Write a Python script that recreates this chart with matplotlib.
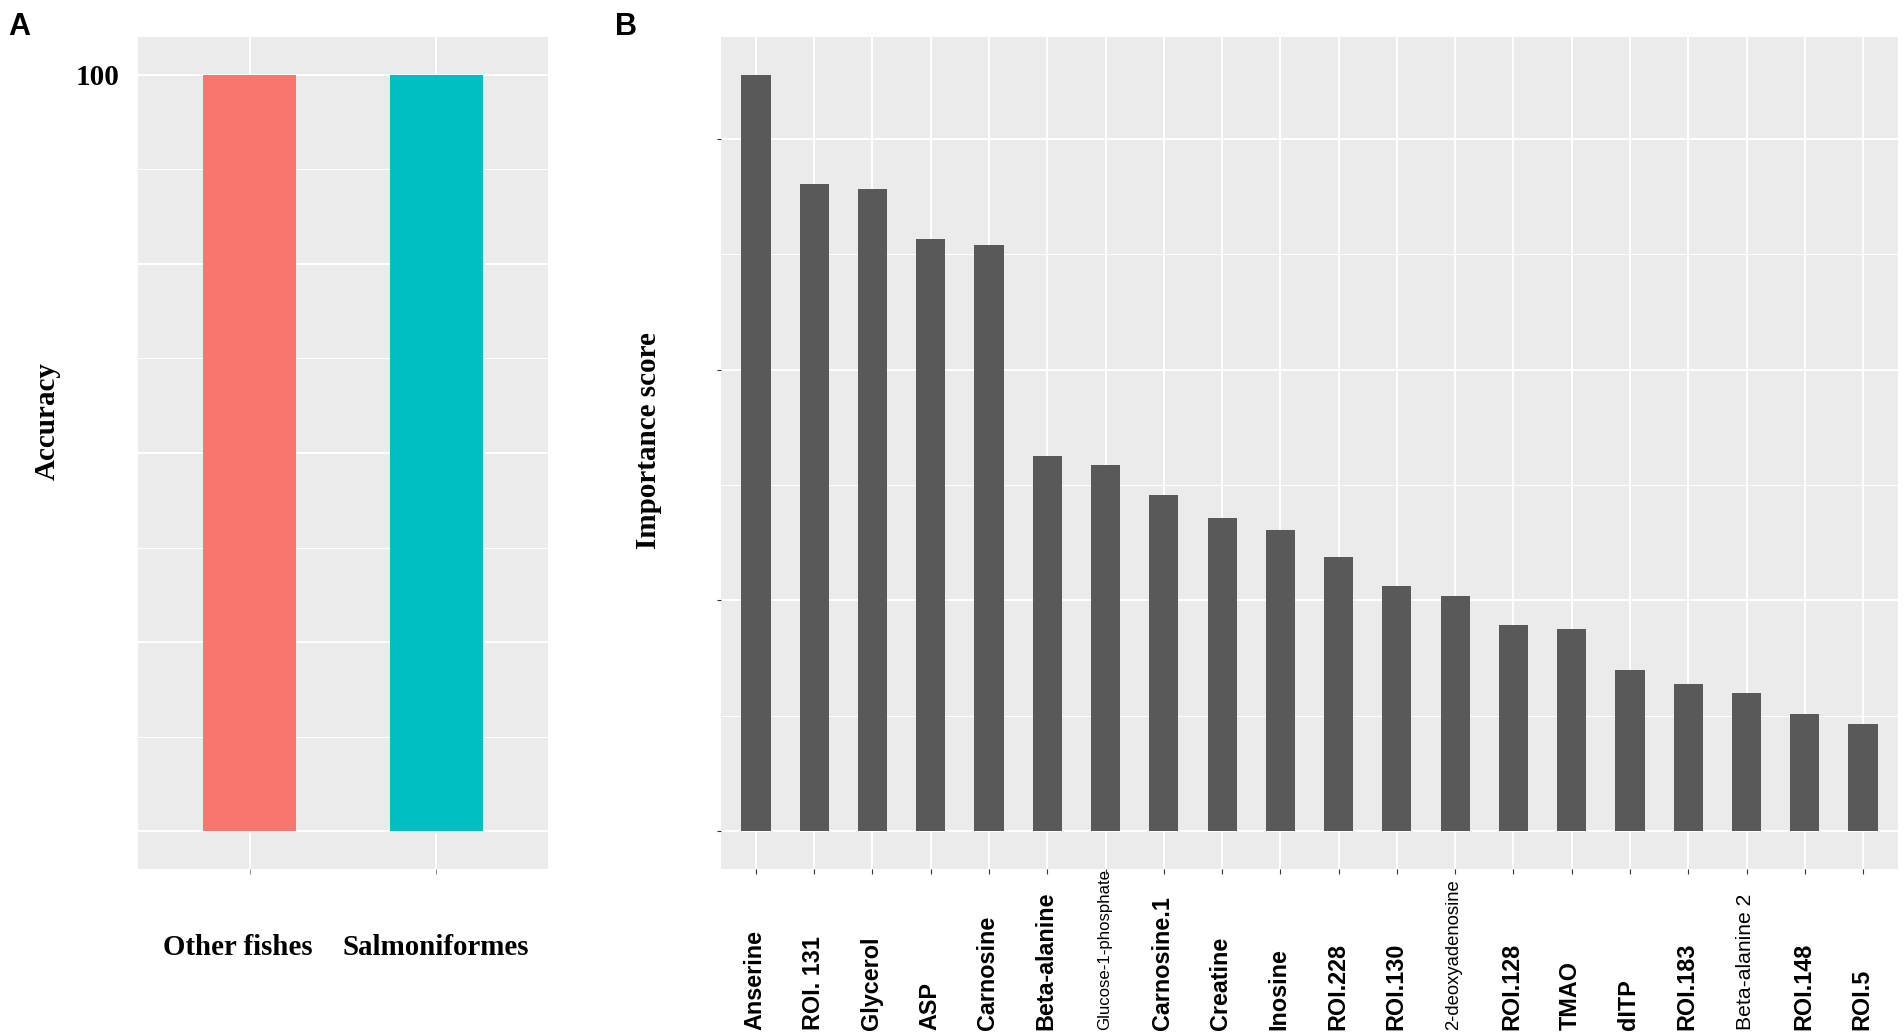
import numpy as np
import matplotlib
matplotlib.use("Agg")
import matplotlib.pyplot as plt
from matplotlib.transforms import blended_transform_factory, ScaledTranslation

# panel A data
groups = ["Other fishes", "Salmoniformes"]
accuracy = [100, 100]
group_colors = ["#F8766D", "#00BFC4"]

# panel B data
features = ["Anserine", "ROI. 131", "Glycerol", "ASP", "Carnosine", "Beta-alanine",
            "Glucose-1-phosphate", "Carnosine.1", "Creatine", "Inosine", "ROI.228",
            "ROI.130", "2-deoxyadenosine", "ROI.128", "TMAO", "dITP", "ROI.183",
            "Beta-alanine 2", "ROI.148", "ROI.5"]
importance = [3.277, 2.803, 2.784, 2.566, 2.540, 1.624, 1.587, 1.456, 1.356, 1.303,
              1.188, 1.061, 1.019, 0.893, 0.878, 0.699, 0.636, 0.597, 0.507, 0.463]

# labels drawn smaller / not bold in the original
small_labels = {"Glucose-1-phosphate": (12.1, "normal"),
                "2-deoxyadenosine": (13.3, "normal"),
                "Beta-alanine 2": (15.2, "normal")}

W, H = 1904, 1033
fig = plt.figure(figsize=(W / 100, H / 100), dpi=100)

serif = "Liberation Serif"
sans = "Liberation Sans"
bg = "#EBEBEB"


def px_axes(left, top, right, bottom):
    return fig.add_axes([left / W, 1 - bottom / H, (right - left) / W, (bottom - top) / H])


def gg_style(ax):
    ax.set_facecolor(bg)
    for s in ax.spines.values():
        s.set_visible(False)
    ax.set_axisbelow(True)


# ---------- panel A ----------
axA = px_axes(138, 37, 548, 869)
gg_style(axA)
xa = np.arange(1, len(groups) + 1)
axA.bar(xa, accuracy, width=0.5, color=group_colors, zorder=3)
axA.set_xlim(0.4, 2.6)
axA.set_ylim(-5, 105)
axA.set_yticks([0, 25, 50, 75, 100])
axA.set_yticklabels(["", "", "", "", "100"], fontfamily=serif, fontweight="bold", fontsize=21)
axA.set_yticks(np.arange(12.5, 100, 25), minor=True)
axA.tick_params(axis="y", which="both", length=0, pad=13)
axA.set_xticks(xa)
axA.set_xticklabels(groups, fontfamily=serif, fontweight="bold", fontsize=20.8)
axA.tick_params(axis="x", length=3.5, width=0.7, color="#8a8a8a", pad=43)
# the first group label sits a little left of its tick in the original
lab0 = axA.get_xticklabels()[0]
lab0.set_transform(lab0.get_transform() + ScaledTranslation(-12 / 100, 0, fig.dpi_scale_trans))
axA.grid(True, which="major", color="white", linewidth=1.4)
axA.grid(True, which="minor", axis="y", color="white", linewidth=0.7)
fig.text(47 / W, 1 - 421 / H, "Accuracy", rotation=90, ha="center", va="center",
         fontfamily=serif, fontweight="bold", fontsize=21)
fig.text(8 / W, 1 - 12 / H, "A", ha="left", va="top", fontfamily=sans,
         fontweight="bold", fontsize=22)

# ---------- panel B ----------
axB = px_axes(721, 37, 1898, 869)
gg_style(axB)
xb = np.arange(1, len(features) + 1)
axB.bar(xb, importance, width=0.5, color="#595959", zorder=3)
axB.set_xlim(0.4, len(features) + 0.6)
top = max(importance)
axB.set_ylim(-0.05 * top, top * 1.05)
axB.set_yticks([0, 1, 2, 3])
axB.set_yticklabels([])
axB.set_yticks([0.5, 1.5, 2.5], minor=True)
axB.tick_params(axis="y", which="major", length=3, width=0.8, color="#333333")
axB.tick_params(axis="y", which="minor", length=0)
axB.set_xticks(xb)
axB.set_xticklabels([])
axB.tick_params(axis="x", length=3.5, width=0.8, color="#333333")
axB.grid(True, which="major", color="white", linewidth=1.4)
axB.grid(True, which="minor", axis="y", color="white", linewidth=0.7)

trans = blended_transform_factory(axB.transData, fig.transFigure)
for x, name in zip(xb, features):
    size, weight = small_labels.get(name, (16.8, "bold"))
    axB.text(x - 0.02, 3 / H, name, transform=trans, rotation=90, ha="center", va="bottom",
             fontfamily=sans, fontweight=weight, fontsize=size, clip_on=False)

fig.text(648 / W, 1 - 441 / H, "Importance score", rotation=90, ha="center", va="center",
         fontfamily=serif, fontweight="bold", fontsize=21)
fig.text(615 / W, 1 - 12 / H, "B", ha="left", va="top", fontfamily=sans,
         fontweight="bold", fontsize=22)

fig.savefig("out.png", dpi=100)
